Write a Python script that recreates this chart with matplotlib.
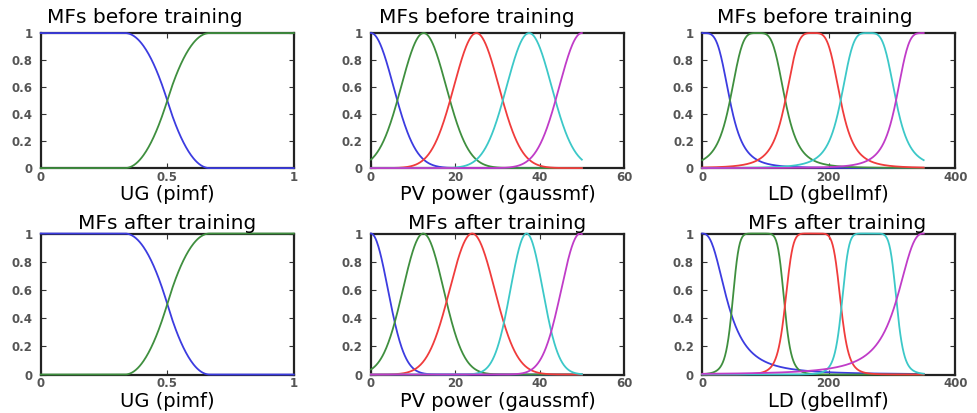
import numpy as np
import matplotlib
matplotlib.use("Agg")
import matplotlib.pyplot as plt

# membership function parameters
# UG input, pimf [a, b, c, d]
ug_before = [[-0.667, -0.333, 0.333, 0.667], [0.333, 0.667, 1.333, 1.667]]
ug_after = [[-0.667, -0.333, 0.333, 0.667], [0.333, 0.667, 1.333, 1.667]]
ug_range = [0, 1]

# PV power input, gaussmf sigma / centre
pv_before_sigma = [5.31, 5.31, 5.31, 5.31, 5.31]
pv_before_center = [0, 12.5, 25, 37.5, 50]
pv_after_sigma = [4.0, 4.8, 5.3, 3.8, 4.45]
pv_after_center = [0, 12.4, 24.0, 36.9, 49.6]
pv_range = [0, 50]

# LD input, gbellmf a / b / c
ld_before_a = [43.75, 43.75, 43.75, 43.75, 43.75]
ld_before_b = [2, 2, 2, 2, 2]
ld_before_c = [0, 87.5, 175, 262.5, 350]
ld_after_a = [41, 41.2, 44, 43.5, 45]
ld_after_b = [1.3, 3.8, 3.5, 3.8, 1.3]
ld_after_c = [0, 88.7, 175, 264, 350]
ld_range = [0, 350]

colors = ['#3c3ce0', '#3f8f3f', '#f03c3c', '#3cc8c8', '#c03cc8']


def pimf(x, p):
    a, b, c, d = p
    y = np.zeros_like(x)
    # rising s-part
    m1 = (a + b) / 2
    y = np.where((x >= a) & (x <= m1), 2 * ((x - a) / (b - a)) ** 2, y)
    y = np.where((x > m1) & (x <= b), 1 - 2 * ((x - b) / (b - a)) ** 2, y)
    y = np.where((x > b) & (x < c), 1.0, y)
    # falling z-part
    m2 = (c + d) / 2
    y = np.where((x >= c) & (x <= m2), 1 - 2 * ((x - c) / (d - c)) ** 2, y)
    y = np.where((x > m2) & (x <= d), 2 * ((x - d) / (d - c)) ** 2, y)
    return y


def gaussmf(x, s, c):
    return np.exp(-(x - c) ** 2 / (2 * s ** 2))


def gbellmf(x, a, b, c):
    return 1 / (1 + np.abs((x - c) / a) ** (2 * b))


def style(ax, xlim, xticks, xticklabels, title, tx, pad, xlabel):
    ax.set_xlim(xlim)
    ax.set_ylim(0, 1)
    ax.set_xticks(xticks)
    ax.set_xticklabels(xticklabels)
    ax.set_yticks([0, 0.2, 0.4, 0.6, 0.8, 1])
    ax.set_yticklabels(['0', '0.2', '0.4', '0.6', '0.8', '1'])
    ax.tick_params(direction='in', length=3.5, width=0.8, top=True, right=True,
                   labelsize=8.5, labelcolor='#555555', color='#333333')
    ax.tick_params(axis='x', pad=2)
    ax.tick_params(axis='y', pad=6)
    for t in ax.get_xticklabels() + ax.get_yticklabels():
        t.set_fontweight('bold')
    for s in ax.spines.values():
        s.set_linewidth(1.6)
        s.set_color('#222222')
        s.set_zorder(2)
    ax.set_title(title, fontsize=14.5, x=tx, pad=pad)
    ax.set_xlabel(xlabel, fontsize=14, labelpad=1)


fig = plt.figure(figsize=(9.77, 4.13), dpi=100)

lefts = [0.0417, 0.3797, 0.7188]
w = 0.259
rows = [(0.593, 0.327), (0.0932, 0.3414)]

lw = 1.3
for r, (bot, h) in enumerate(rows):
    before = r == 0
    title = 'MFs before training' if before else 'MFs after training'
    pad = 7 if before else 3

    # UG
    ax = fig.add_axes([lefts[0], bot, w, h])
    x = np.linspace(ug_range[0], ug_range[1], 400)
    for i, p in enumerate(ug_before if before else ug_after):
        ax.plot(x, pimf(x, p), color=colors[i], lw=lw, zorder=3, clip_on=False)
    style(ax, (0, 1), [0, 0.5, 1], ['0', '0.5', '1'], title,
          0.413 if before else 0.5, pad, 'UG (pimf)')

    # PV power
    ax = fig.add_axes([lefts[1], bot, w, h])
    x = np.linspace(pv_range[0], pv_range[1], 400)
    sig = pv_before_sigma if before else pv_after_sigma
    cen = pv_before_center if before else pv_after_center
    for i in range(len(sig)):
        ax.plot(x, gaussmf(x, sig[i], cen[i]), color=colors[i], lw=lw,
                zorder=3, clip_on=False)
    style(ax, (0, 60), [0, 20, 40, 60], ['0', '20', '40', '60'], title,
          0.418 if before else 0.5, pad, 'PV power (gaussmf)')

    # LD
    ax = fig.add_axes([lefts[2], bot, w, h])
    x = np.linspace(ld_range[0], ld_range[1], 400)
    aa = ld_before_a if before else ld_after_a
    bb = ld_before_b if before else ld_after_b
    cc = ld_before_c if before else ld_after_c
    for i in range(len(aa)):
        ax.plot(x, gbellmf(x, aa[i], bb[i], cc[i]), color=colors[i], lw=lw,
                zorder=3, clip_on=False)
    style(ax, (0, 400), [0, 200, 400], ['0', '200', '400'], title,
          0.445 if before else 0.532, pad, 'LD (gbellmf)')

fig.savefig('out.png', dpi=100)
